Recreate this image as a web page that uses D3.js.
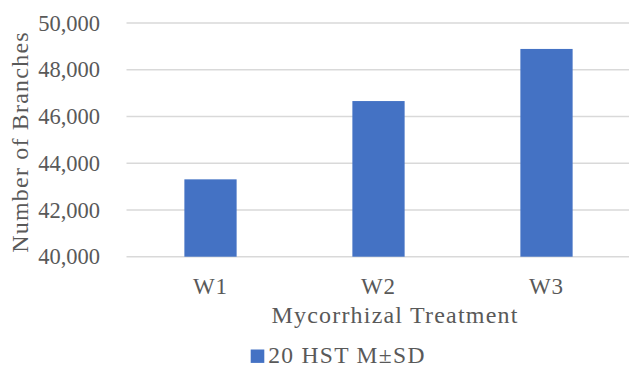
<!DOCTYPE html>
<html>
<head>
<meta charset="utf-8">
<script src="https://cdn.jsdelivr.net/npm/d3@7/dist/d3.min.js"></script>
<style>
  html, body { margin: 0; padding: 0; background: #fff; }
  svg { display: block; }
  text { font-family: "Liberation Serif", "Times New Roman", serif; fill: #595959; }
</style>
</head>
<body>
<svg id="chart" width="629" height="368"></svg>
<script>
// Branch counts per mycorrhizal treatment, 20 HST
const categories = ["W1", "W2", "W3"];
const branches = [43310, 46660, 48890];
const yTicks = [40000, 42000, 44000, 46000, 48000, 50000];
const seriesName = "20 HST M±SD";
const xTitle = "Mycorrhizal Treatment";
const yTitle = "Number of Branches";

const svg = d3.select("#chart");
const plot = { left: 126.5, right: 630.5, top: 23, bottom: 256.7 };

const x = d3.scaleBand()
  .domain(categories)
  .range([plot.left, plot.right])
  .paddingInner(0.689)
  .paddingOuter(0.3445);

const y = d3.scaleLinear()
  .domain([40000, 50000])
  .range([plot.bottom, plot.top]);

// horizontal gridlines
svg.append("g")
  .selectAll("line")
  .data(yTicks)
  .join("line")
  .attr("x1", plot.left)
  .attr("x2", 629)
  .attr("y1", d => y(d))
  .attr("y2", d => y(d))
  .attr("stroke", "#d9d9d9")
  .attr("stroke-width", 1.4);

// bars
svg.append("g")
  .selectAll("rect")
  .data(categories)
  .join("rect")
  .attr("x", d => x(d))
  .attr("width", x.bandwidth())
  .attr("y", (d, i) => y(branches[i]))
  .attr("height", (d, i) => y(40000) - y(branches[i]))
  .attr("fill", "#4472c4");

// y axis labels
const fmt = d3.format(",");
const yAxis = svg.append("g")
  .attr("transform", `translate(${plot.left},0)`)
  .call(d3.axisLeft(y).tickValues(yTicks).tickFormat(fmt).tickSize(0).tickPadding(26.5));
yAxis.select(".domain").remove();
yAxis.selectAll("text")
  .attr("font-size", 22.5)
  .attr("font-family", "Liberation Serif")
  .attr("fill", "#595959");

// x axis labels
const xAxis = svg.append("g")
  .attr("transform", `translate(0,${plot.bottom})`)
  .call(d3.axisBottom(x).tickSize(0).tickPadding(21));
xAxis.select(".domain").remove();
xAxis.selectAll("text")
  .attr("font-size", 23)
  .attr("letter-spacing", 1)
  .attr("font-family", "Liberation Serif")
  .attr("fill", "#595959");

// axis titles
svg.append("text")
  .attr("x", 395)
  .attr("y", 323.3)
  .attr("text-anchor", "middle")
  .attr("font-size", 24)
  .attr("letter-spacing", 1.2)
  .text(xTitle);

svg.append("text")
  .attr("transform", "translate(28,142) rotate(-90)")
  .attr("text-anchor", "middle")
  .attr("font-size", 24)
  .attr("letter-spacing", 1.2)
  .text(yTitle);

// legend
const legend = svg.append("g").attr("transform", "translate(250.7,349.5)");
legend.append("rect").attr("width", 13.6).attr("height", 13.4).attr("fill", "#4472c4");
legend.append("text")
  .attr("x", 17.6)
  .attr("y", 13.4)
  .attr("font-size", 23.5)
  .attr("letter-spacing", 1.3)
  .text(seriesName);
</script>
</body>
</html>
